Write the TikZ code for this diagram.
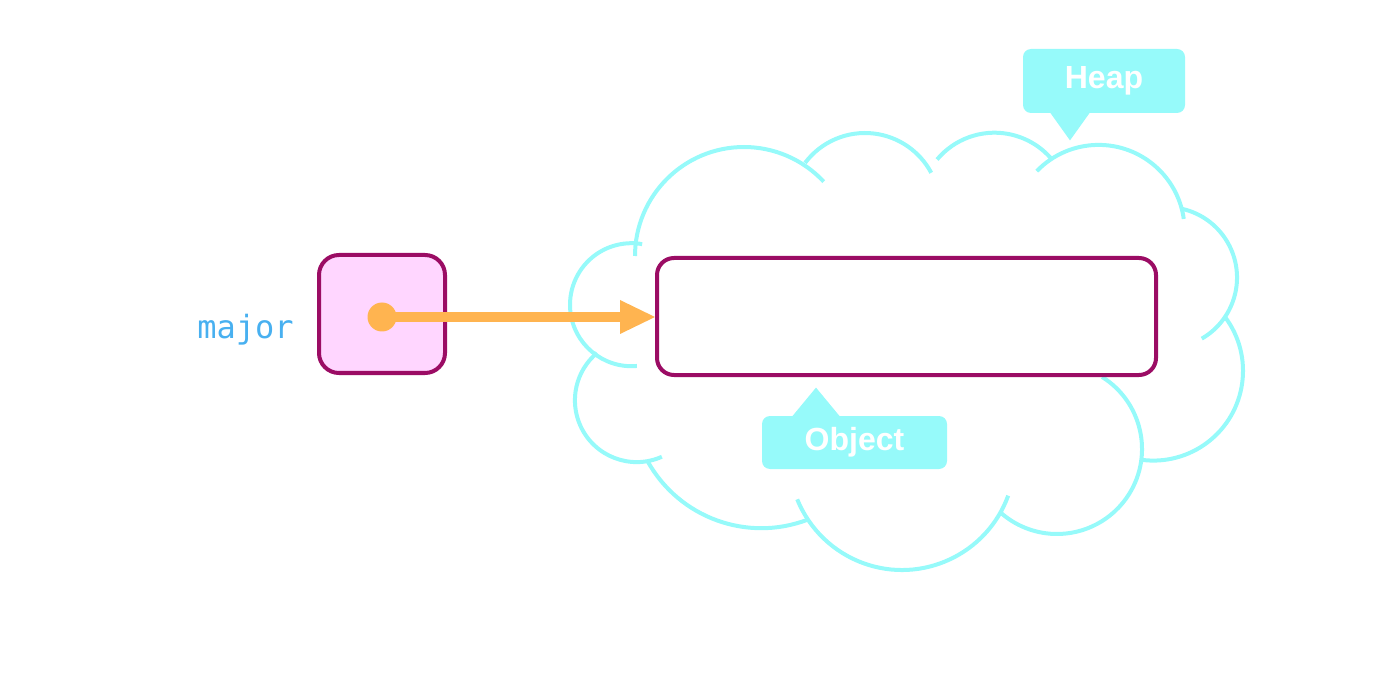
\documentclass[tikz,border=0pt]{standalone}
\usepackage{fontspec}
\setmainfont{Liberation Sans}
\setmonofont{DejaVu Sans Mono}
\usetikzlibrary{arrows.meta}
\usetikzlibrary{positioning}
\definecolor{heapcyan}{RGB}{150,250,250}
\definecolor{refmagenta}{RGB}{155,12,100}
\definecolor{refpink}{RGB}{255,214,255}
\definecolor{reforange}{RGB}{255,180,80}
\definecolor{varblue}{RGB}{72,176,240}
\tikzset {
  % one arc of the heap outline
  heap lobe/.style = {
    draw = heapcyan,
    line width = 2pt
  },
  mem box/.style = {
    draw = refmagenta,
    line width = 2pt,
    rectangle,
    inner sep = 0
  },
  % the variable's slot
  ref box/.style = {
    mem box,
    fill = refpink,
    rounded corners = 10pt,
    minimum width = 63pt,
    minimum height = 59pt
  },
  % the object on the heap
  obj box/.style = {
    mem box,
    fill = white,
    rounded corners = 8.5pt,
    minimum width = 249.5pt,
    minimum height = 58.5pt
  },
  % speech bubble label
  callout/.style = {
    fill = heapcyan,
    rounded corners = 4pt,
    text = white,
    font = \bfseries\fontsize{16}{19}\selectfont,
    inner sep = 0
  },
  var name/.style = {
    text = varblue,
    font = \ttfamily\fontsize{16}{19}\selectfont,
    inner sep = 0
  },
  ref dot/.style = {
    fill = reforange,
    circle,
    minimum size = 14.5pt,
    inner sep = 0
  },
  ref arr/.style = {
    draw = reforange,
    line width = 5pt,
    -{Triangle[length=17.5pt, width=17pt, line width=0pt]}
  }
}
\begin{document}
\begin{tikzpicture}[x = 0.5pt, y = -0.5pt]
    \useasboundingbox (0,0) rectangle (1396,689);

    % heap cloud
    \draw[heap lobe] (744,256) ++(180:109) arc[start angle=180, end angle=317, radius=109];
    \draw[heap lobe] (865,208) ++(217:75) arc[start angle=217, end angle=332, radius=75];
    \draw[heap lobe] (994.5,207.7) ++(220:75) arc[start angle=220, end angle=320, radius=75];
    \draw[heap lobe] (1098.6,230.9) ++(224:86) arc[start angle=224, end angle=352, radius=86];
    \draw[heap lobe] (1166.5,277.6) ++(283:70.5) arc[start angle=283, end angle=420, radius=70.5];
    \draw[heap lobe] (1153.3,370.9) ++(323:89.7) arc[start angle=323, end angle=457, radius=89.7];
    \draw[heap lobe] (1057,449) ++(302:85) arc[start angle=302, end angle=492, radius=85];
    \draw[heap lobe] (902,457) ++(20:113) arc[start angle=20, end angle=158, radius=113];
    \draw[heap lobe] (761.3,398.2) ++(69.4:130) arc[start angle=69.4, end angle=150.6, radius=130];
    \draw[heap lobe] (636.7,400.3) ++(66:61.8) arc[start angle=66, end angle=230, radius=61.8];
    \draw[heap lobe] (631.5,304.7) ++(85:61.5) arc[start angle=85, end angle=280, radius=61.5];

    \node[obj box] (object) at (906.5,316.5) {};
    \node[ref box] (ptr) at (382,314) {};
    \node[var name, left=11.5pt of ptr, yshift=-8pt] (major) {major};
    \node[ref dot] (dot) at (382,317) {};

    \draw[ref arr] (dot.center) -- (dot.center -| object.west);

    \node[callout, minimum width=81pt, minimum height=32pt] (heap label) at (1104,81) {Heap};
    \fill[heapcyan] (heap label.south) ++(-54,-1) -- ++(40,0) -- ++(-20,28) -- cycle;

    \node[callout, minimum width=92.5pt, minimum height=26.5pt] (object label) at (854.5,442.5) {Object};
    \fill[heapcyan] (object label.north) ++(-62.5,1) -- ++(48,0) -- ++(-24,-29) -- cycle;
\end{tikzpicture}
\end{document}
